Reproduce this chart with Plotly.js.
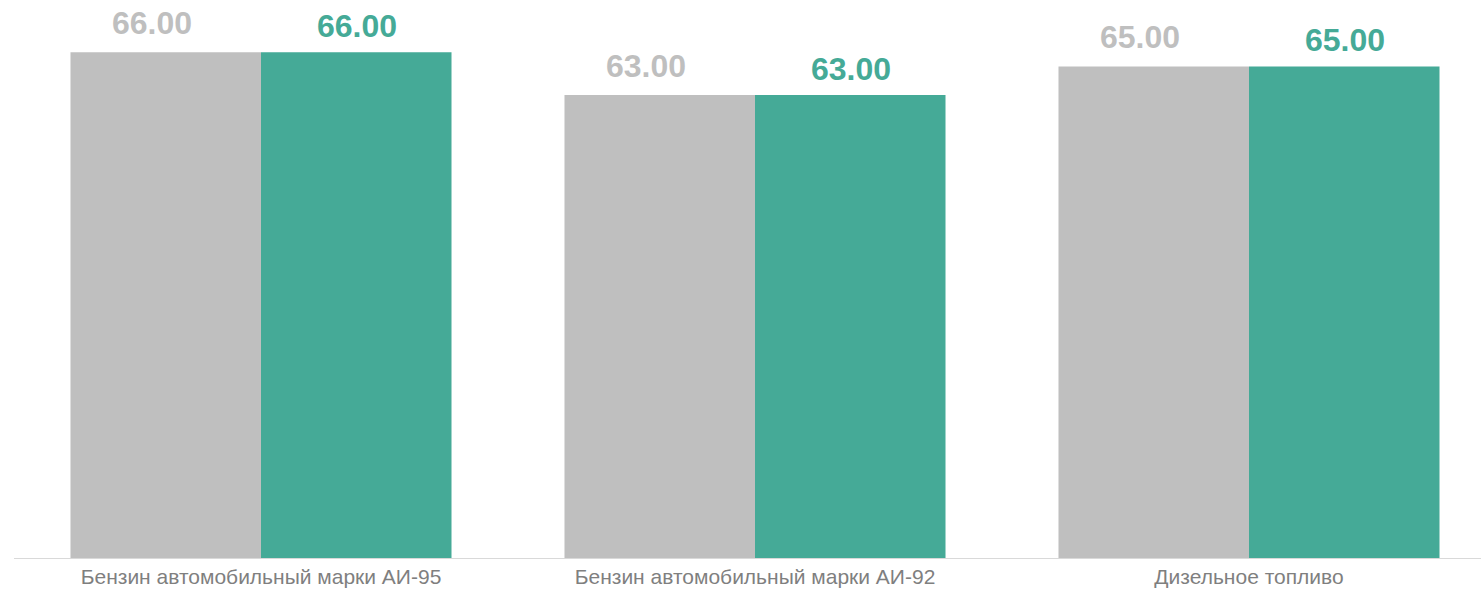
<!DOCTYPE html>
<html>
<head>
<meta charset="utf-8">
<script src="https://cdn.plot.ly/plotly-3.0.1.min.js"></script>
<style>html,body{margin:0;padding:0;background:#fff;}#chart{width:1481px;height:590px;}</style>
</head>
<body>
<div id="chart"></div>
<script>
const categories = ["Бензин автомобильный марки АИ-95", "Бензин автомобильный марки АИ-92", "Дизельное топливо"];
const seriesA = [66, 63, 65];
const seriesB = [66, 63, 65];
const labelsA = ["66.00", "63.00", "65.00"];
const labelsB = ["66.00", "63.00", "65.00"];

const greyColor = "#bfbfbf";
const tealColor = "#45aa97";

const W = 1481, H = 590;
const margin = {l: 14, r: 0, t: 0, b: 32};
const bargap = 0.2287;
const plotW = W - margin.l - margin.r;
const catPx = 494;
const xRange = [-0.5, -0.5 + plotW / catPx];
const barPx = catPx * (1 - bargap) / 2;

const traces = [
  {type: "bar", x: categories, y: seriesA, marker: {color: greyColor}, hoverinfo: "none"},
  {type: "bar", x: categories, y: seriesB, marker: {color: tealColor}, hoverinfo: "none"}
];

const annotations = [];
categories.forEach((c, i) => {
  annotations.push({x: c, y: seriesA[i], xref: "x", yref: "y", text: labelsA[i], showarrow: false,
    xshift: -barPx / 2 - 14, yshift: 29, yanchor: "middle",
    font: {family: "Liberation Sans, Arial, sans-serif", size: 32, color: greyColor, weight: "bold"}});
  annotations.push({x: c, y: seriesB[i], xref: "x", yref: "y", text: labelsB[i], showarrow: false,
    xshift: barPx / 2 + 1, yshift: 26, yanchor: "middle",
    font: {family: "Liberation Sans, Arial, sans-serif", size: 32, color: tealColor, weight: "bold"}});
});

const layout = {
  width: W, height: H,
  margin: margin,
  paper_bgcolor: "#fff", plot_bgcolor: "#fff",
  barmode: "group", bargap: bargap, bargroupgap: 0,
  showlegend: false,
  xaxis: {type: "category", range: xRange, showline: true, linecolor: "#d9d9d9", linewidth: 1,
    showgrid: false, zeroline: false, ticks: "", ticklen: 0,
    tickfont: {family: "Liberation Sans, Arial, sans-serif", size: 21, color: "#7f7f7f"}},
  yaxis: {range: [30.5, 30.5 + (H - margin.t - margin.b) / 14.25], visible: false, showgrid: false, zeroline: false},
  annotations: annotations
};

Plotly.newPlot("chart", traces, layout, {staticPlot: true, displayModeBar: false});
</script>
</body>
</html>
